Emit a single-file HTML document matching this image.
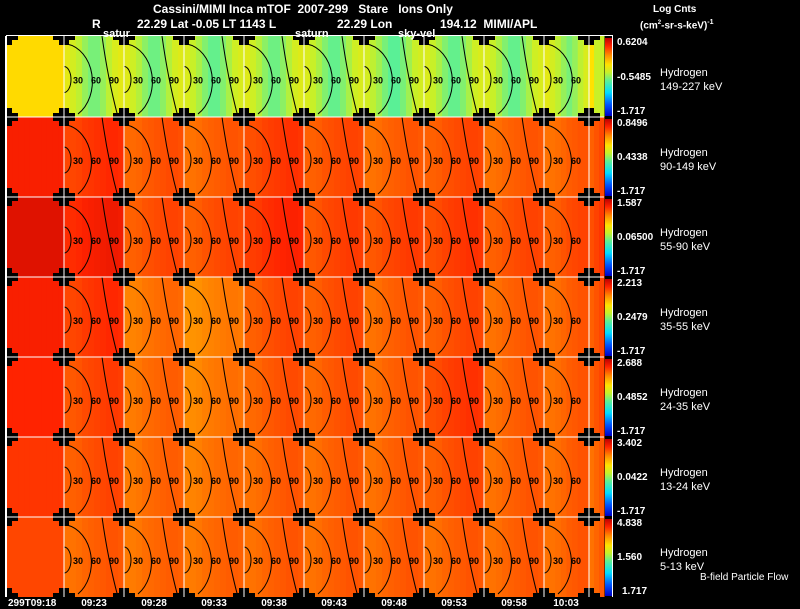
<!DOCTYPE html>
<html><head><meta charset="utf-8">
<style>
html,body{margin:0;padding:0;background:#000;}
#wrap{position:relative;width:800px;height:609px;overflow:hidden;background:#000;font-family:"Liberation Sans",sans-serif;color:#fff;}
.t{position:absolute;white-space:nowrap;font-weight:bold;line-height:1;}
</style></head>
<body>
<div id="wrap">
<svg id="svg" width="800" height="609" style="position:absolute;left:0;top:0"></svg>
<div class="t" style="left:153px;top:3px;font-size:12px">Cassini/MIMI Inca mTOF&nbsp; 2007-299 &nbsp; Stare &nbsp; Ions Only</div>
<div class="t" style="left:92px;top:18px;font-size:12px">R</div>
<div class="t" style="left:137px;top:18px;font-size:12px">22.29 Lat -0.05 LT 1143 L</div>
<div class="t" style="left:337px;top:18px;font-size:12px">22.29 Lon</div>
<div class="t" style="left:440px;top:18px;font-size:12px">194.12&nbsp; MIMI/APL</div>
<div class="t" style="left:103px;top:29px;font-size:11px">satur</div>
<div class="t" style="left:295px;top:29px;font-size:11px">saturn</div>
<div class="t" style="left:398px;top:29px;font-size:11px">sky-vel</div>
<div class="t" style="left:653px;top:5px;font-size:10px">Log Cnts</div>
<div class="t" style="left:640px;top:19px;font-size:10px">(cm<sup style="font-size:6px">2</sup>-sr-s-keV)<sup style="font-size:7px">-1</sup></div>
<div class="t" style="left:700px;top:573px;font-size:10px;font-weight:normal">B-field Particle Flow</div>
<div id="labels"></div>
</div>
<script>
const rowTops=[36,117,197,277,357,437,517];
const rowBottom=597;
const colEdges=[7,64,124,184,244,304,364,424,484,544,589,604];
const timeLabels=["299T09:18","09:23","09:28","09:33","09:38","09:43","09:48","09:53","09:58","10:03"];
const energyLabels=["149-227 keV","90-149 keV","55-90 keV","35-55 keV","24-35 keV","13-24 keV","5-13 keV"];
const cbTop=["0.6204","0.8496","1.587","2.213","2.688","3.402","4.838"];
const cbMid=["-0.5485","0.4338","0.06500","0.2479","0.4852","0.0422","1.560"];
const cbBot=["-1.717","-1.717","-1.717","-1.717","-1.717","-1.717","1.717"];
const row1=[0.67,0.55,0.54,0.53,0.54,0.53,0.52,0.53,0.53,0.55,0.60];
const row2=[0.91,0.88,0.84,0.83,0.87,0.85,0.83,0.85,0.83,0.83,0.85];
const row3=[0.95,0.91,0.85,0.85,0.89,0.86,0.86,0.87,0.85,0.85,0.87];
const row4=[0.91,0.88,0.81,0.79,0.85,0.85,0.83,0.85,0.83,0.83,0.85];
const row5=[0.90,0.86,0.82,0.80,0.84,0.84,0.83,0.87,0.83,0.83,0.85];
const row6=[0.88,0.85,0.82,0.81,0.83,0.83,0.83,0.85,0.83,0.83,0.83];
const row7=[0.86,0.83,0.82,0.82,0.83,0.83,0.83,0.83,0.83,0.83,0.83];
const rowVals=[row1,row2,row3,row4,row5,row6,row7];
const profTop=[0.06,0.03,0.0,-0.04,-0.07,-0.07,-0.04,0.0,0.04,0.06];
const profLow=[-0.02,-0.02,-0.015,-0.005,0,0.005,0.01,0.015,0.015,0.01];

const NS="http://www.w3.org/2000/svg";
const svg=document.getElementById('svg');
const stops=[[0,[0,0,200]],[0.15,[0,90,255]],[0.3,[0,220,255]],[0.45,[90,240,150]],[0.56,[200,240,40]],[0.66,[255,225,0]],[0.78,[255,140,0]],[0.9,[255,35,0]],[1,[190,0,0]]];
function cmap(v){v=Math.max(0,Math.min(1,v));for(let i=1;i<stops.length;i++){if(v<=stops[i][0]){const a=stops[i-1],b=stops[i];const t=(v-a[0])/(b[0]-a[0]);const c=a[1].map((x,k)=>Math.round(x+(b[1][k]-x)*t));return `rgb(${c[0]},${c[1]},${c[2]})`;}}return 'rgb(190,0,0)';}
function mk(tag,attrs){const e=document.createElementNS(NS,tag);for(const k in attrs)e.setAttribute(k,attrs[k]);svg.appendChild(e);return e;}
function rowY0(r){return rowTops[r];}
function rowY1(r){return r<6?rowTops[r+1]:rowBottom;}

for(let r=0;r<7;r++){
  const y0=rowY0(r),y1=rowY1(r);
  const g=document.createElementNS(NS,'g');
  
  
  svg.appendChild(g);
  for(let c=0;c<rowVals[r].length;c++){
    const x0=colEdges[c],x1=colEdges[c+1];
    const n=Math.max(1,Math.round((x1-x0)/6));
    const w=(x1-x0)/n;
    for(let s=0;s<n;s++){
      const pi=Math.min(9,Math.floor(s*10/n));
      const prof=(c===0?0:(r===0?profTop[pi]:profLow[pi]));
      const v=rowVals[r][c]+prof;
      const e=document.createElementNS(NS,'rect');
      e.setAttribute('x',x0+s*w);e.setAttribute('y',y0);
      e.setAttribute('width',w+0.5);e.setAttribute('height',y1-y0);
      e.setAttribute('fill',cmap(v));
      
      
      g.appendChild(e);
    }
  }
  for(let c=1;c<=9;c++){
    const cx=colEdges[c];const cy=(y0+y1)/2+3;
    const a1=mk('path',{d:`M${cx} ${cy-13} A7 13 0 0 1 ${cx} ${cy+13}`,fill:'none',stroke:'#000','stroke-width':1});
    
    const a2=mk('path',{d:`M${cx+3} ${y0+8} A30 38 0 0 1 ${cx+14} ${y1-3}`,fill:'none',stroke:'#000','stroke-width':1});
    
    if(c<9){const a3=mk('path',{d:`M${cx+38} ${y0} Q${cx+44} ${cy} ${cx+54} ${y1}`,fill:'none',stroke:'#000','stroke-width':1});
    }
    const lbl=[["30",cx+9],["60",cx+27],["90",cx+45]];
    lbl.forEach(([t,x])=>{if(x>colEdges[c+1]-4)return;const e=mk('text',{x:x,y:cy+4,'font-size':9,'font-family':'Liberation Sans, sans-serif','font-weight':'bold',fill:'#000'});e.textContent=t;
      });
  }
  const gid='cbg'+r;
  const defs=mk('defs',{});
  const lg=document.createElementNS(NS,'linearGradient');lg.setAttribute('id',gid);lg.setAttribute('x1',0);lg.setAttribute('y1',1);lg.setAttribute('x2',0);lg.setAttribute('y2',0);
  stops.forEach(s=>{const st=document.createElementNS(NS,'stop');st.setAttribute('offset',s[0]);st.setAttribute('stop-color',cmap(s[0]));lg.appendChild(st);});
  defs.appendChild(lg);
  const cb=mk('rect',{x:605,y:y0+2,width:7,height:y1-y0-3,fill:`url(#${gid})`});
  
}
const fr=mk('line',{x1:6,x2:6,y1:36,y2:597,stroke:'#fff','stroke-width':2});
const fr2=mk('line',{x1:612.5,x2:612.5,y1:36,y2:597,stroke:'#fff','stroke-width':1});
const fr3=mk('line',{x1:6,x2:613,y1:35.5,y2:35.5,stroke:'#fff','stroke-width':1});
const cp=mk('clipPath',{id:'plotclip'});const cr=document.createElementNS(NS,'rect');cr.setAttribute('x',7);cr.setAttribute('y',36);cr.setAttribute('width',597);cr.setAttribute('height',561);cp.appendChild(cr);
const cg=mk('g',{'clip-path':'url(#plotclip)'});
const ys=rowTops.concat([rowBottom]);
for(let c=0;c<colEdges.length-1;c++){for(const y of ys){const x=colEdges[c];
  [[x-11,y-4,22,8],[x-5,y-9,10,18]].forEach(a=>{const e=document.createElementNS(NS,'rect');e.setAttribute('x',a[0]);e.setAttribute('y',a[1]);e.setAttribute('width',a[2]);e.setAttribute('height',a[3]);e.setAttribute('fill','#000');cg.appendChild(e);});
}}
for(let r=1;r<7;r++){const l=mk('line',{x1:7,x2:604,y1:rowTops[r],y2:rowTops[r],stroke:'#fff','stroke-width':1});}
for(let c=1;c<colEdges.length-1;c++){const l=mk('line',{x1:colEdges[c],x2:colEdges[c],y1:36,y2:597,stroke:'#fff','stroke-width':1});}

const L=document.getElementById('labels');
function txt(s,x,y,size,name,bold){const d=document.createElement('div');d.className='t';d.style.left=x+'px';d.style.top=y+'px';d.style.fontSize=size+'px';if(bold===false)d.style.fontWeight='normal';d.textContent=s;
  
  
  L.appendChild(d);return d;}
for(let r=0;r<7;r++){const y0=rowY0(r),y1=rowY1(r),m=(y0+y1)/2;
  txt(cbTop[r],617,y0+2,10,'colorbar-max');
  txt(cbMid[r],617,m-4,10,'colorbar-mid');
  txt(cbBot[r],r===6?622:617,y1-10,10,'colorbar-min');
  txt('Hydrogen',660,m-9,11,'species-label',false);
  txt(energyLabels[r],660,m+5,11,'energy-label',false);
}
const centers=[8,94,154,214,274,334,394,454,514,566];
timeLabels.forEach((t,i)=>{const d=txt(t,centers[i],599,10,'time-tick-label');if(i>0)d.style.transform='translateX(-50%)';});
</script>
</body></html>
